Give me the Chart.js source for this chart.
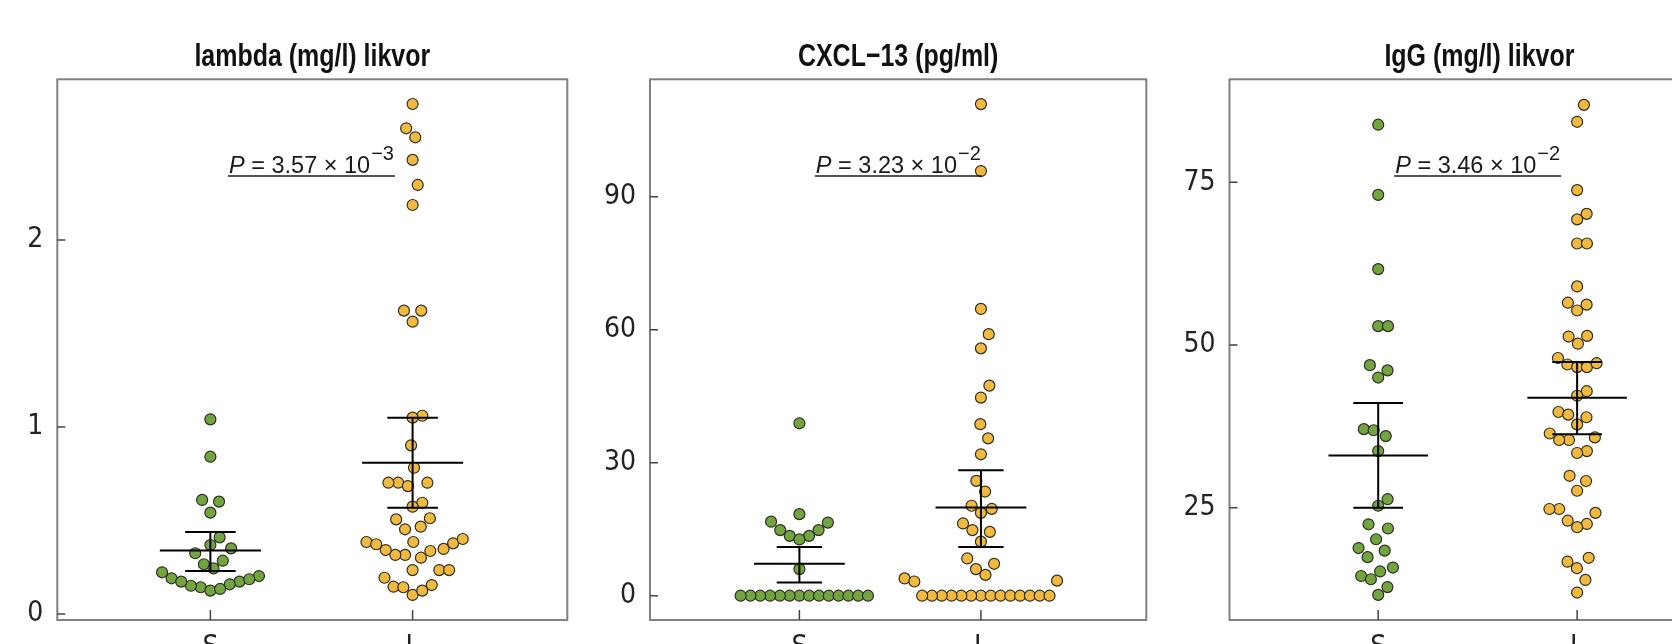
<!DOCTYPE html>
<html>
<head>
<meta charset="utf-8">
<script src="https://cdn.jsdelivr.net/npm/chart.js@4.4.1/dist/chart.umd.min.js"></script>
<style>
html, body { margin: 0; padding: 0; background: #fff; overflow: hidden; width: 1672px; height: 644px; position: relative; }
canvas { position: absolute; top: 0; }
</style>
</head>
<body>
<canvas id="lambda"></canvas>
<canvas id="cxcl"></canvas>
<canvas id="igg"></canvas>
<script>
// groupes (axe x)
var groups = ['S', 'L'];
var titles = ['lambda (mg/l) likvor', 'CXCL\u221213 (pg/ml)', 'IgG (mg/l) likvor'];

// lambda (mg/l) likvor
var lambdaS = [1.041, 0.841, 0.610, 0.601, 0.542, 0.410, 0.369, 0.351, 0.325, 0.285, 0.266, 0.244,
  0.203, 0.191, 0.173, 0.159, 0.143, 0.125, 0.134, 0.151, 0.173, 0.186, 0.223];
var lambdaL = [2.727, 2.597, 2.549, 2.428, 2.294, 2.187, 1.622, 1.622, 1.563, 1.060, 1.050, 0.902,
  0.782, 0.702, 0.702, 0.684, 0.702, 0.595, 0.574, 0.512, 0.506, 0.467, 0.453, 0.385, 0.385, 0.378,
  0.348, 0.316, 0.316, 0.301, 0.337, 0.342, 0.373, 0.401, 0.235, 0.235, 0.235, 0.194, 0.146, 0.143,
  0.102, 0.125, 0.155];
var lambdaMean = [0.339, 0.809];
var lambdaLow = [0.230, 0.568];
var lambdaHigh = [0.439, 1.050];
var lambdaTicks = [0, 1, 2];

// CXCL-13 (pg/ml)
var cxclS = [38.9, 18.4, 16.5, 16.7, 14.8, 14.8, 13.5, 13.5, 12.7, 6.0,
  0, 0, 0, 0, 0, 0, 0, 0, 0, 0, 0, 0, 0, 0];
var cxclL = [110.9, 95.8, 64.7, 59.0, 55.8, 47.4, 44.7, 38.7, 35.5, 31.9, 25.9, 23.5, 20.3, 19.6,
  18.7, 16.3, 14.8, 14.4, 12.2, 8.4, 7.2, 6.0, 4.7, 3.9, 3.2, 3.4,
  0, 0, 0, 0, 0, 0, 0, 0, 0, 0, 0, 0, 0, 0];
var cxclMean = [7.2, 19.9];
var cxclLow = [3.0, 11.0];
var cxclHigh = [11.0, 28.3];
var cxclTicks = [0, 30, 60, 90];

// IgG (mg/l) likvor
var iggS = [83.85, 73.07, 61.66, 52.9, 52.9, 46.9, 46.1, 45.0, 37.07, 36.9, 36.0, 33.7, 26.3, 25.3,
  22.45, 21.8, 20.15, 18.8, 18.4, 17.4, 15.8, 15.2, 14.5, 14.0, 12.8, 11.6];
var iggL = [86.9, 84.3, 73.8, 70.15, 69.3, 65.6, 65.6, 59.0, 56.5, 56.2, 55.3, 51.4, 51.3, 50.2,
  48.0, 47.0, 46.6, 46.6, 47.2, 42.9, 42.2, 39.7, 39.3, 38.9, 37.8, 36.4, 35.4, 35.4, 35.8, 33.7,
  33.4, 29.9, 29.1, 27.6, 24.8, 24.8, 24.2, 23.0, 22.5, 22.0, 17.3, 16.7, 15.7, 13.9, 11.96];
var iggMean = [33.0, 41.9];
var iggLow = [25.0, 36.3];
var iggHigh = [41.1, 47.4];
var iggTicks = [25, 50, 75];

// valeurs P
var pMantissa = ['3.57', '3.23', '3.46'];
var pExponent = ['\u22123', '\u22122', '\u22122'];

var narrow = '"DejaVu Sans Condensed", "Liberation Sans", sans-serif';
var regular = '"Liberation Sans", Arial, sans-serif';
var TOP = 79.3, BOTTOM = 620, CANVAS_H = 700;
var green = '#72a53f', yellow = '#f2b93f';

// placement beeswarm (methode swarm, priorite ascendante) en pixels
function swarm(pix) {
  var SX = 9.8, SY = 23.5;
  var pts = pix.map(function (p, i) { return { i: i, u: -p / SY, off: 0 }; });
  var order = pts.slice().sort(function (a, b) { return a.u - b.u; });
  var placed = [];
  order.forEach(function (p) {
    var near = placed.filter(function (q) { return p.u - q.u < 1; });
    if (near.length) {
      near.sort(function (a, b) { return Math.abs(a.off) - Math.abs(b.off); });
      var cands = [0];
      near.forEach(function (q) { cands.push(q.off + Math.sqrt(1 - Math.pow(p.u - q.u, 2))); });
      near.forEach(function (q) { cands.push(q.off - Math.sqrt(1 - Math.pow(p.u - q.u, 2))); });
      var best = Infinity;
      cands.forEach(function (c) {
        var bad = near.some(function (q) { return Math.pow(p.u - q.u, 2) + Math.pow(c - q.off, 2) < 0.999; });
        if (!bad && Math.abs(c) < Math.abs(best)) best = c;
      });
      p.off = best;
    }
    placed.push(p);
  });
  return pts.map(function (p) { return p.off * SX; });
}

// moyenne + barres d'erreur
function errorBar(g, mean, lo, hi) {
  return [
    { x: g - 0.25, y: mean }, { x: g + 0.25, y: mean }, { x: g, y: null },
    { x: g - 0.125, y: hi }, { x: g + 0.125, y: hi }, { x: g, y: null },
    { x: g - 0.125, y: lo }, { x: g + 0.125, y: lo }, { x: g, y: null },
    { x: g, y: lo }, { x: g, y: hi }
  ];
}

var panelPlugin = {
  id: 'panelDeco',
  afterDatasetsDraw: function (chart) {
    var o = chart.options.plugins.panelDeco;
    var ctx = chart.ctx, a = chart.chartArea;
    var xs = chart.scales.x, ys = chart.scales.y;
    ctx.save();
    // cadre
    ctx.strokeStyle = '#808080';
    ctx.lineWidth = 2;
    ctx.strokeRect(a.left, a.top, a.right - a.left, a.bottom - a.top);
    // graduations vers l'interieur
    ctx.strokeStyle = '#444';
    ctx.lineWidth = 1.5;
    ctx.beginPath();
    ys.ticks.forEach(function (t) {
      var y = ys.getPixelForValue(t.value);
      ctx.moveTo(a.left, y); ctx.lineTo(a.left + 8, y);
    });
    xs.ticks.forEach(function (t) {
      var x = xs.getPixelForValue(t.value);
      ctx.moveTo(x, a.bottom); ctx.lineTo(x, a.bottom - 10);
    });
    ctx.stroke();
    // titre (gras etroit)
    ctx.save();
    ctx.fillStyle = '#111';
    ctx.textAlign = 'center';
    ctx.textBaseline = 'alphabetic';
    ctx.translate((a.left + a.right) / 2, a.top - 13.3);
    ctx.scale(0.78, 1);
    ctx.font = 'bold 32px ' + regular;
    ctx.fillText(o.title, 0, 0);
    ctx.restore();
    // P = ...
    var cx = xs.getPixelForValue(o.pX), by = a.top + 94;
    ctx.textAlign = 'left';
    ctx.textBaseline = 'alphabetic';
    ctx.fillStyle = '#1a1a1a';
    ctx.font = 'italic 23.5px ' + regular;
    var wP = ctx.measureText('P').width;
    var rest = ' = ' + o.mant + ' \u00d7 10';
    ctx.font = '23.5px ' + regular;
    var wR = ctx.measureText(rest).width;
    ctx.font = '20px ' + regular;
    var wE = ctx.measureText(o.expo).width;
    var total = wP + wR + 1 + wE;
    var x0 = cx - total / 2;
    ctx.font = 'italic 23.5px ' + regular;
    ctx.fillText('P', x0, by);
    ctx.font = '23.5px ' + regular;
    ctx.fillText(rest, x0 + wP, by);
    ctx.font = '20px ' + regular;
    ctx.fillText(o.expo, x0 + wP + wR + 1, by - 13.3);
    ctx.strokeStyle = '#1a1a1a';
    ctx.lineWidth = 1.6;
    ctx.beginPath();
    ctx.moveTo(x0 - 1, by + 2.7);
    ctx.lineTo(x0 + total + 1, by + 2.7);
    ctx.stroke();
    ctx.restore();
  }
};

function makePanel(p) {
  var canvas = document.getElementById(p.id);
  var cl = Math.round(p.left - 80);
  var axisW = p.left - cl;
  var cw = Math.ceil(p.right - cl) + 4;
  canvas.width = cw;
  canvas.height = CANVAS_H;
  canvas.style.left = cl + 'px';
  canvas.style.width = cw + 'px';
  canvas.style.height = CANVAS_H + 'px';

  var pointSet = function (vals, g, color) {
    return {
      type: 'scatter', order: 2,
      data: vals.map(function (v) { return { x: g, y: v }; }),
      backgroundColor: color, borderColor: '#2e2e22', borderWidth: 1.2,
      pointRadius: 5.5, pointHoverRadius: 5.5
    };
  };
  var barSet = function (g) {
    return {
      type: 'line', order: 1,
      data: errorBar(g + 1, p.mean[g], p.low[g], p.high[g]),
      borderColor: '#000', borderWidth: 2, pointRadius: 0, spanGaps: false, fill: false
    };
  };

  var chart = new Chart(canvas, {
    type: 'scatter',
    data: {
      datasets: [barSet(0), barSet(1), pointSet(p.s, 1, green), pointSet(p.l, 2, yellow)]
    },
    options: {
      responsive: false,
      animation: false,
      devicePixelRatio: 1,
      layout: { padding: { top: TOP, left: 0, bottom: 0, right: cw - (p.right - cl) } },
      plugins: {
        legend: { display: false },
        tooltip: { enabled: false },
        panelDeco: { title: p.title, mant: p.mant, expo: p.expo, pX: p.pX }
      },
      scales: {
        x: {
          type: 'linear', min: p.xMin, max: p.xMax,
          afterFit: function (s) { s.height = CANVAS_H - BOTTOM; },
          afterBuildTicks: function (s) { s.ticks = groups.map(function (g, i) { return { value: i + 1 }; }); },
          ticks: {
            callback: function (v) { return groups[v - 1]; },
            font: { family: narrow, size: 28 }, color: '#222', padding: 11
          },
          grid: { display: false, drawTicks: false },
          border: { display: false }
        },
        y: {
          min: p.yMin, max: p.yMax,
          afterFit: function (s) { s.width = axisW; },
          afterBuildTicks: function (s) { s.ticks = p.ticks.map(function (v) { return { value: v }; }); },
          ticks: { font: { family: narrow, size: 28 }, color: '#222', padding: 14 },
          grid: { display: false, drawTicks: false },
          border: { display: false }
        }
      }
    },
    plugins: [panelPlugin]
  });

  // beeswarm calcule avec les echelles du graphique
  var xs = chart.scales.x, ys = chart.scales.y;
  var unit = xs.getPixelForValue(2) - xs.getPixelForValue(1);
  [p.s, p.l].forEach(function (vals, gi) {
    var offs = swarm(vals.map(function (v) { return ys.getPixelForValue(v); }));
    chart.data.datasets[2 + gi].data = vals.map(function (v, i) { return { x: gi + 1 + offs[i] / unit, y: v }; });
  });
  chart.update('none');
}

makePanel({ id: 'lambda', title: titles[0], s: lambdaS, l: lambdaL, mean: lambdaMean, low: lambdaLow, high: lambdaHigh,
  ticks: lambdaTicks, mant: pMantissa[0], expo: pExponent[0], pX: 1.5,
  left: 57.3, right: 569.3, xMin: 0.243, xMax: 2.765, yMin: -0.032, yMax: 2.859 });
makePanel({ id: 'cxcl', title: titles[1], s: cxclS, l: cxclL, mean: cxclMean, low: cxclLow, high: cxclHigh,
  ticks: cxclTicks, mant: pMantissa[1], expo: pExponent[1], pX: 1.545,
  left: 650, right: 1148.3, xMin: 0.177, xMax: 2.911, yMin: -5.48, yMax: 116.5 });
makePanel({ id: 'igg', title: titles[2], s: iggS, l: iggL, mean: iggMean, low: iggLow, high: iggHigh,
  ticks: iggTicks, mant: pMantissa[2], expo: pExponent[2], pX: 1.5,
  left: 1229.5, right: 1732, xMin: 0.2525, xMax: 2.765, yMin: 7.74, yMax: 90.83 });
</script>
</body>
</html>
